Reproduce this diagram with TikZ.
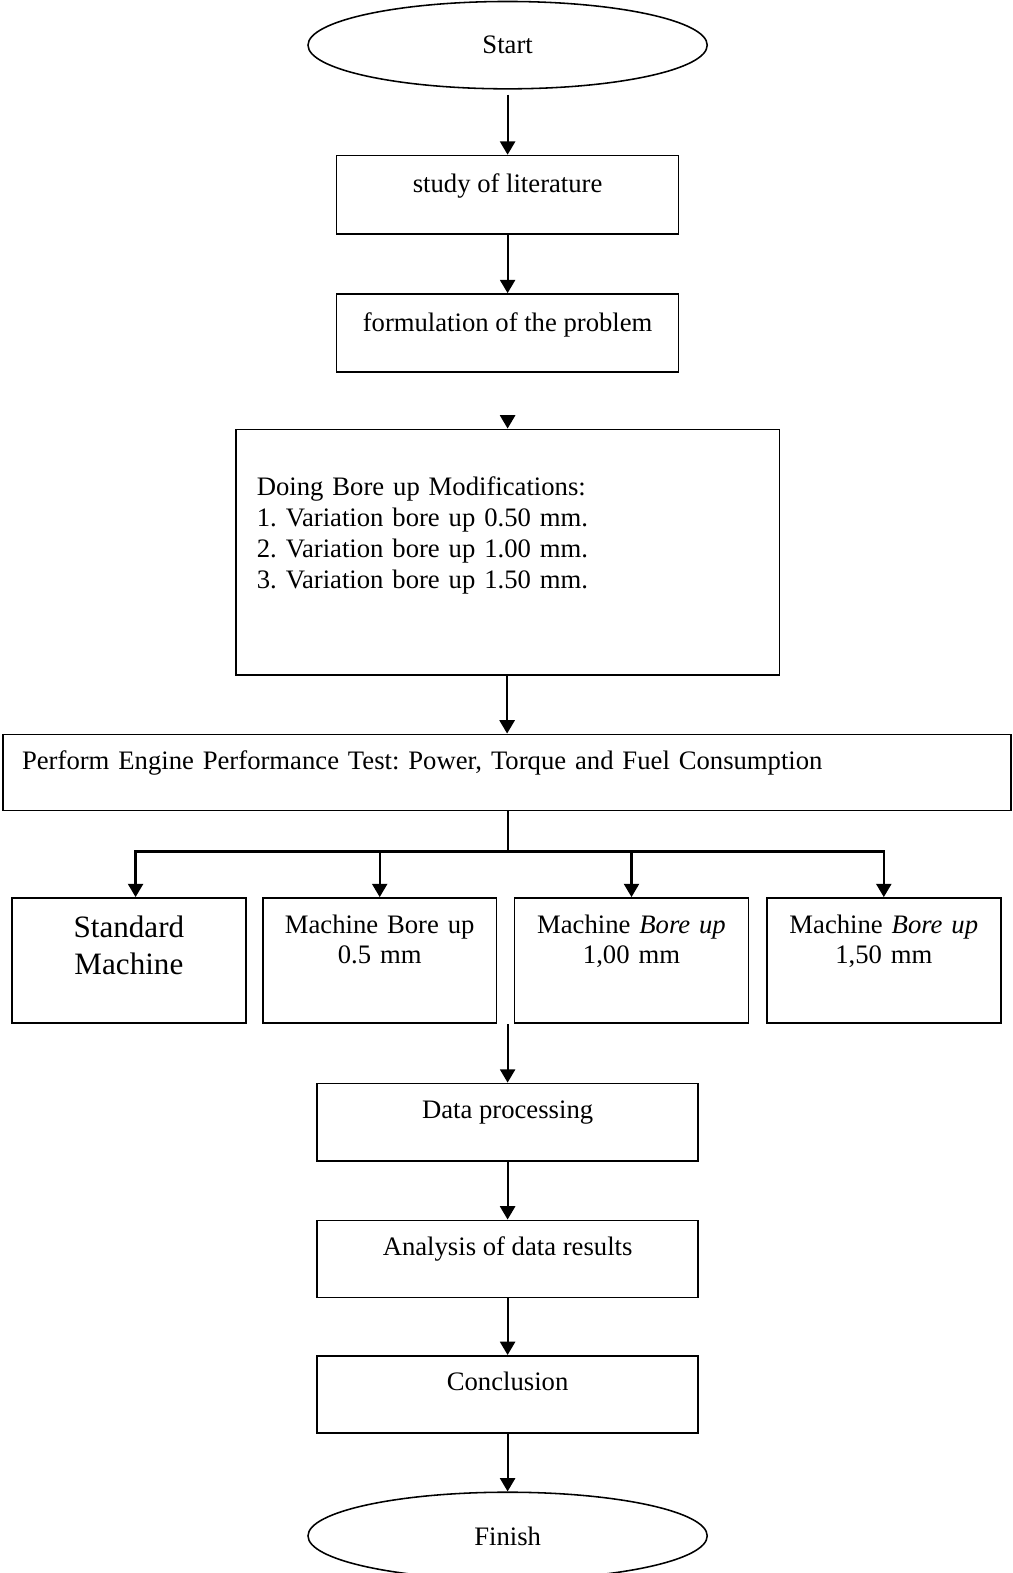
\documentclass[tikz,border=0pt]{standalone}
\usepackage{fontspec}
\setmainfont{Liberation Serif}
\usetikzlibrary{arrows.meta}
\usetikzlibrary{shapes.geometric}
\newcommand\tightspaces{\spaceskip=2.2pt\relax}

\begin{document}
\begin{tikzpicture}[x=0.4513pt, y=-0.4513pt, line width=0.7pt,
    font=\fontsize{12}{14}\selectfont\frenchspacing,
    terminal/.style={draw, ellipse, minimum width=179.6pt, minimum height=39.3pt, inner sep=0pt},
    stepbox/.style={draw, rectangle, minimum width=153.9pt, inner sep=0pt, text height=16.7pt, text depth=18.5pt},
    listbox/.style={draw, rectangle, text width=225.6pt, align=left, inner xsep=9.5pt, inner ysep=0pt, text height=29.8pt, text depth=80.8pt, font={\fontsize{12}{14}\selectfont\frenchspacing\tightspaces}},
    widebox/.style={draw, rectangle, text width=436.4pt, align=left, inner xsep=8.6pt, inner ysep=0pt, text height=15.8pt, text depth=18.5pt, font={\fontsize{12}{14}\selectfont\frenchspacing\tightspaces}},
    machine/.style={draw, rectangle, text width=105.2pt, align=center, inner sep=0pt, text height=16.2pt, text depth=40.2pt, font=\fontsize{12}{13.1}\selectfont\frenchspacing},
    resultbox/.style={draw, rectangle, minimum width=171.5pt, inner sep=0pt, text height=15.8pt, text depth=19pt},
    link/.style={line width=1pt},
    flow/.style={link, -{Triangle[length=6pt,width=6.8pt]}}]
      \useasboundingbox (0,0) rectangle (1009,1568);
      \def\midx{506}

      \node[terminal] (start) at (\midx,45) {Start};
      \node[stepbox] (study) at (\midx,194) {study of literature};
      \node[stepbox] (problem) at (\midx,332) {formulation of the problem};
      \node[listbox] (boreup) at (\midx,550.5) {Doing Bore up Modifications:\\
        1. Variation bore up 0.50 mm.\\
        2. Variation bore up 1.00 mm.\\
        3. Variation bore up 1.50 mm.};
      \node[widebox] (test) at (505.5,770) {Perform Engine Performance Test: Power, Torque and Fuel Consumption};

      % the four machines
      \node[machine, text height=17.6pt, text depth=38.8pt, font=\fontsize{14}{16.7}\selectfont] (m1) at (128.5,957.5) {Standard\\Machine};
      \node[machine] (m2) at (378.5,957.5) {Machine Bore up\\0.5 mm};
      \node[machine] (m3) at (629.5,957.5) {Machine \textit{Bore up}\\1,00 mm};
      \node[machine] (m4) at (881,957.5) {Machine \textit{Bore up}\\1,50 mm};

      \node[resultbox] (data) at (\midx,1118.5) {Data processing};
      \node[resultbox] (analysis) at (\midx,1255) {Analysis of data results};
      \node[resultbox] (conclusion) at (\midx,1390) {Conclusion};
      \node[terminal] (finish) at (\midx,1531) {Finish};

      \draw[flow, shorten <=2.3pt] (start.south) -- (study.north);
      \draw[flow] (study.south) -- (problem.north);
      \coordinate (gap) at ([yshift=6pt]boreup.north);
      \draw[flow] (gap) -- (boreup.north);
      \draw[flow] (boreup.south) -- (test.north |- boreup.south) -- (test.north);

      \draw[link] (test.south -| boreup.south) -- ++(0,40) coordinate (split);
      \draw[flow] (split) -| ([xshift=3pt]m1.north);
      \draw[flow] (split) -| (m2.north);
      \draw[flow] (split) -| (m3.north);
      \draw[flow] (split) -| (m4.north);

      \draw[flow] (data.north |- m2.south) -- (data.north);
      \draw[flow] (data.south) -- (analysis.north);
      \draw[flow] (analysis.south) -- (conclusion.north);
      \draw[flow] (conclusion.south) -- (finish.north);

    \end{tikzpicture}
\end{document}
